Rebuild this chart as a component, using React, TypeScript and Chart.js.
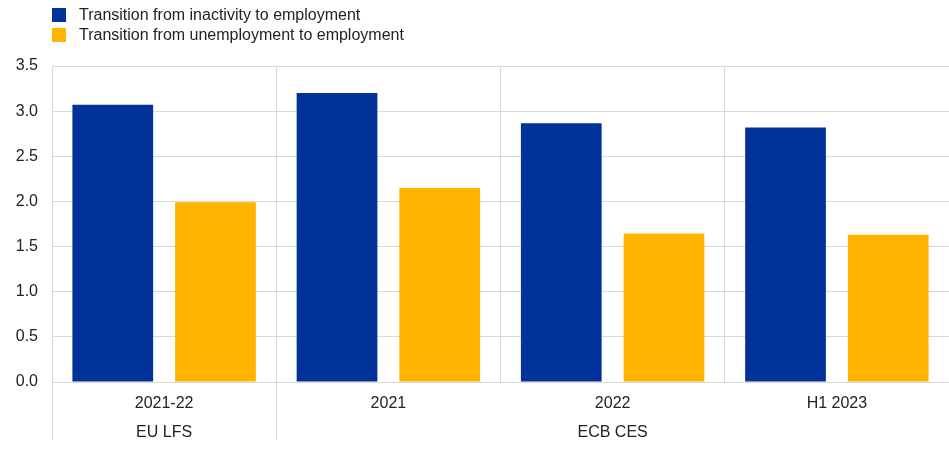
import React, { useEffect, useRef } from "react";
import { Chart, registerables } from "chart.js";

Chart.register(...registerables);

const categories = ["2021-22", "2021", "2022", "H1 2023"];
const sourceGroups = ["EU LFS", "ECB CES", "ECB CES", "ECB CES"];
const inactivityToEmployment = [3.07, 3.2, 2.865, 2.82];
const unemploymentToEmployment = [1.99, 2.15, 1.645, 1.63];
const seriesNames = [
  "Transition from inactivity to employment",
  "Transition from unemployment to employment",
];
const seriesColors = ["#003299", "#FFB400"];

const FONT = "'Liberation Sans', Arial, Helvetica, sans-serif";

// group label shown once, under the middle category of its run
function groupLabelAt(i: number): string {
  const g = sourceGroups[i];
  let start = i;
  while (start > 0 && sourceGroups[start - 1] === g) start--;
  let end = i;
  while (end < sourceGroups.length - 1 && sourceGroups[end + 1] === g) end++;
  return i === Math.floor((start + end) / 2) ? g : "";
}

function isGroupStart(i: number): boolean {
  return i === 0 || (i < sourceGroups.length && sourceGroups[i] !== sourceGroups[i - 1]);
}

export default function App() {
  const canvasRef = useRef<HTMLCanvasElement | null>(null);

  useEffect(() => {
    if (!canvasRef.current) return;
    const chart = new Chart(canvasRef.current, {
      type: "bar",
      data: {
        labels: categories.map((c, i) => [c, groupLabelAt(i)]),
        datasets: [
          {
            label: seriesNames[0],
            data: inactivityToEmployment,
            backgroundColor: seriesColors[0],
            categoryPercentage: 0.916,
            barPercentage: 0.786,
          },
          {
            label: seriesNames[1],
            data: unemploymentToEmployment,
            backgroundColor: seriesColors[1],
            categoryPercentage: 0.916,
            barPercentage: 0.786,
          },
        ],
      },
      options: {
        animation: false,
        responsive: false,
        maintainAspectRatio: false,
        layout: { padding: { top: 66, left: 0, right: 0, bottom: 0 } },
        plugins: {
          legend: { display: false },
          tooltip: { enabled: false },
        },
        scales: {
          x: {
            afterFit: (scale: any) => {
              scale.height = 68;
            },
            grid: {
              display: true,
              offset: true,
              color: "#d9d9d9",
              lineWidth: 1,
              drawTicks: true,
              tickLength: 58,
              tickColor: (ctx: any) =>
                ctx.type === "tick" && isGroupStart(ctx.index) ? "#d9d9d9" : "rgba(0,0,0,0)",
            },
            border: { display: false },
            ticks: {
              color: "#222",
              font: { family: FONT, size: 16, lineHeight: 1.8 },
              padding: -51,
              maxRotation: 0,
              autoSkip: false,
            },
          },
          y: {
            min: 0,
            max: 3.5,
            afterFit: (scale: any) => {
              scale.width = 52;
            },
            grid: { color: "#d9d9d9", lineWidth: 1, drawTicks: false },
            border: { display: false },
            ticks: {
              stepSize: 0.5,
              color: "#222",
              padding: 14,
              font: { family: FONT, size: 16 },
              callback: (v: any) => Number(v).toFixed(1),
            },
          },
        },
      },
    });
    return () => chart.destroy();
  }, []);

  return (
    <div
      style={{
        position: "absolute",
        left: 0,
        top: 0,
        width: 949,
        height: 450,
        background: "#fff",
        fontFamily: FONT,
      }}
    >
      <canvas
        ref={canvasRef}
        width={949}
        height={450}
        style={{ position: "absolute", left: 0, top: 0, width: 949, height: 450 }}
      />
      {seriesNames.map((name, i) => (
        <div
          key={name}
          style={{
            position: "absolute",
            left: 52,
            top: 8 + i * 20,
            height: 14,
            display: "flex",
            alignItems: "center",
            fontSize: 16,
            color: "#222",
            whiteSpace: "nowrap",
          }}
        >
          <span
            style={{
              display: "inline-block",
              width: 14,
              height: 14,
              background: seriesColors[i],
              marginRight: 13,
            }}
          />
          <span>{name}</span>
        </div>
      ))}
    </div>
  );
}
